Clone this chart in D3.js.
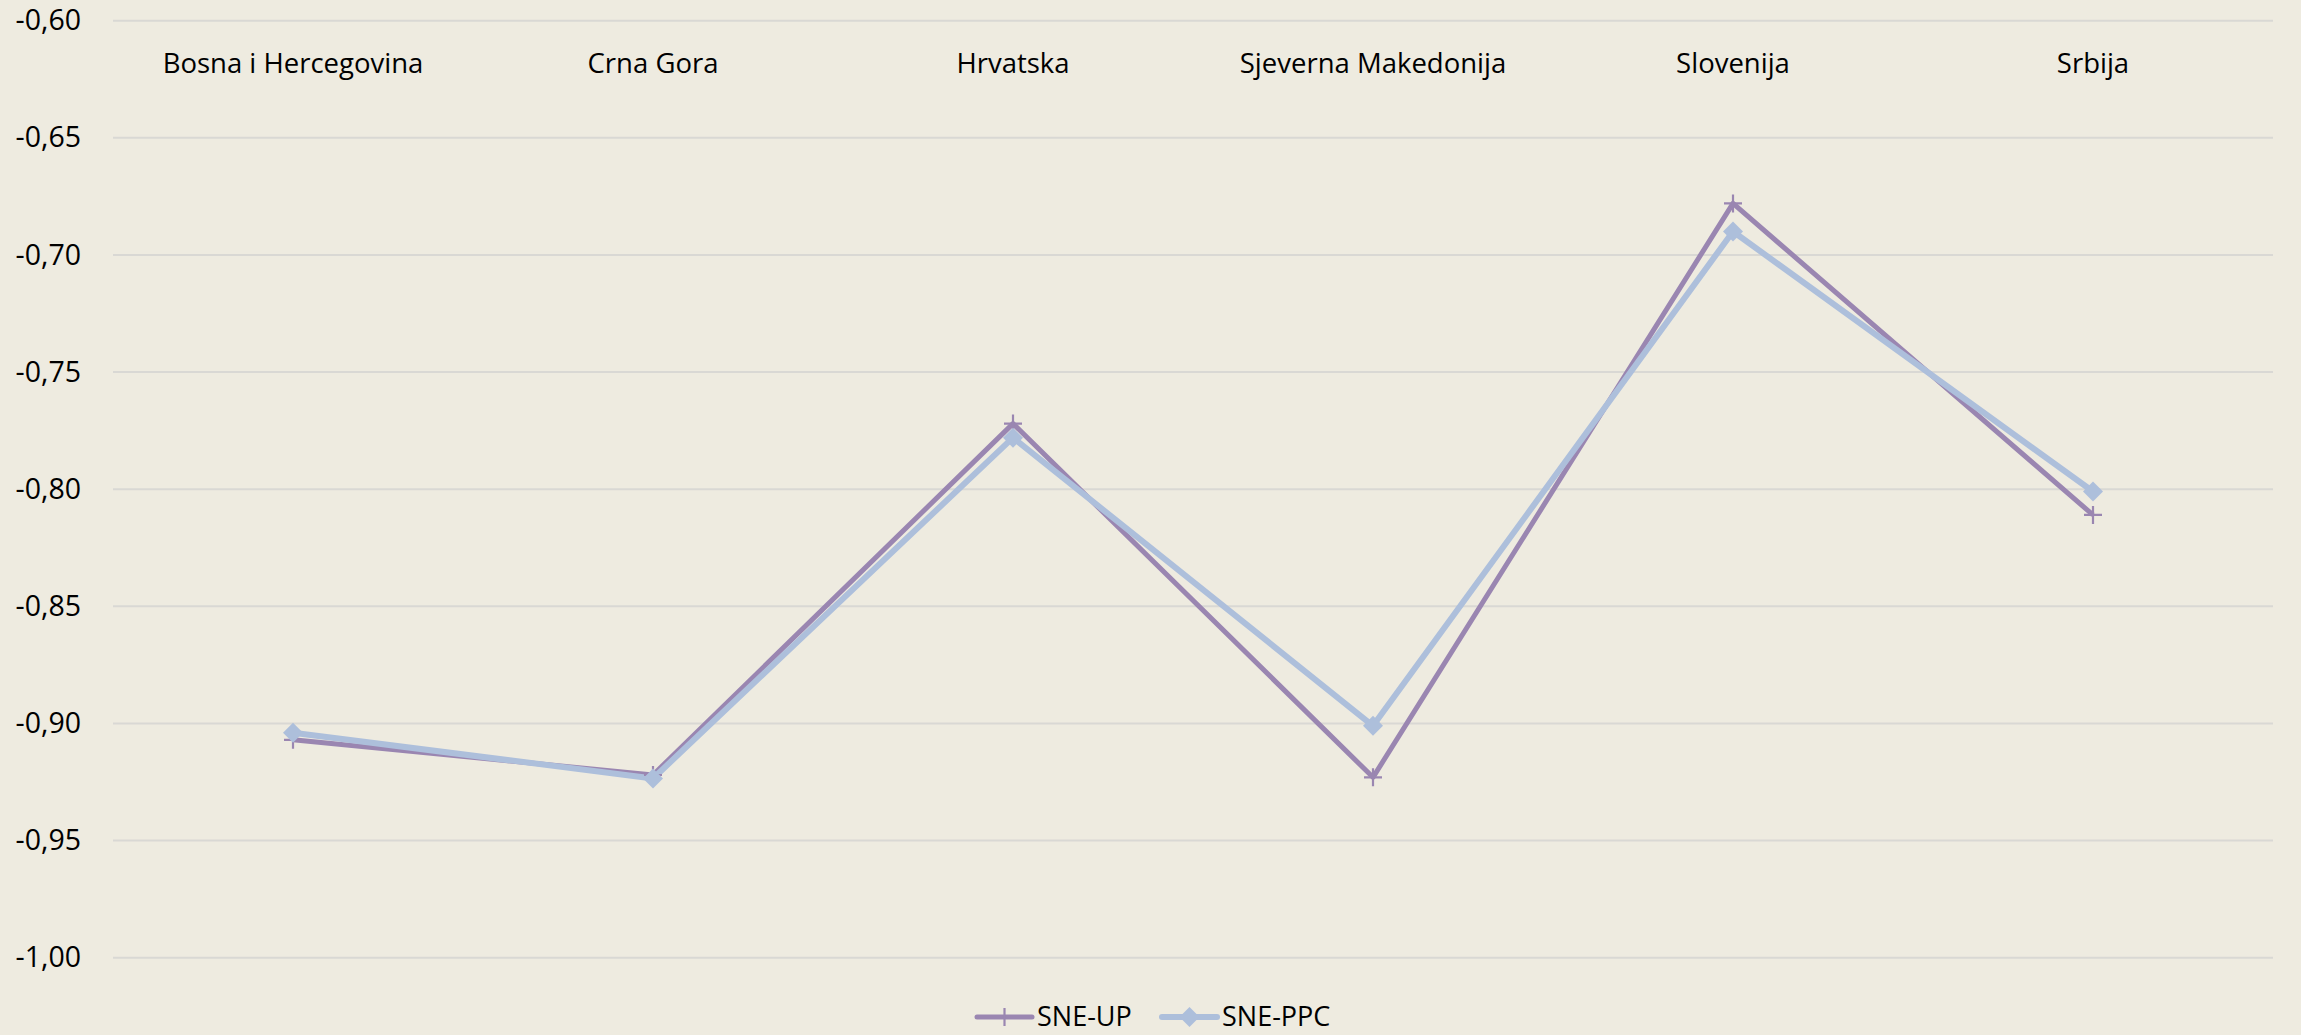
<!DOCTYPE html>
<html>
<head>
<meta charset="utf-8">
<script src="https://cdn.jsdelivr.net/npm/d3@7"></script>
<style>
  body { margin: 0; background: #eeebe0; }
  svg { display: block; }
  text { font-family: "Open Sans", Lato, sans-serif; fill: #000; }
</style>
</head>
<body>
<div id="chart"></div>
<script>
var width = 2301, height = 1035;

// data
var countries = ["Bosna i Hercegovina", "Crna Gora", "Hrvatska", "Sjeverna Makedonija", "Slovenija", "Srbija"];
var sneUP  = [-0.907, -0.922, -0.772, -0.923, -0.678, -0.811];
var snePPC = [-0.904, -0.9235, -0.778, -0.901, -0.690, -0.801];
var yTicks = [-0.60, -0.65, -0.70, -0.75, -0.80, -0.85, -0.90, -0.95, -1.00];
var seriesNames = ["SNE-UP", "SNE-PPC"];
var colors = ["#9a86b1", "#adbfdb"];

var margin = {left: 113, right: 28, top: 21, bottom: 77};

var svg = d3.select("#chart").append("svg")
  .attr("width", width)
  .attr("height", height);

svg.append("rect").attr("width", width).attr("height", height).attr("fill", "#eeebe0");

var x = d3.scaleBand()
  .domain(countries)
  .range([margin.left, width - margin.right]);

var y = d3.scaleLinear()
  .domain([-1.00, -0.60])
  .range([height - margin.bottom - 0.3, margin.top - 0.3]);

var fmt = function(d){ return d3.format(".2f")(d).replace(".", ",").replace("−", "-"); };

// gridlines
svg.append("g")
  .selectAll("line")
  .data(yTicks)
  .join("line")
  .attr("x1", margin.left)
  .attr("x2", width - margin.right)
  .attr("y1", function(d){ return y(d); })
  .attr("y2", function(d){ return y(d); })
  .attr("stroke", "#d9d8d4")
  .attr("stroke-width", 2);

// y axis labels
var yAxis = svg.append("g")
  .attr("transform", "translate(" + (margin.left - 32) + ",0)")
  .call(d3.axisLeft(y).tickValues(yTicks).tickFormat(fmt).tickSize(0).tickPadding(0));
yAxis.select(".domain").remove();
yAxis.selectAll("text")
  .attr("font-size", 28.5)
  .attr("font-family", "'Open Sans', Lato, sans-serif")
  .attr("fill", "#000");

// category labels at top
var xAxis = svg.append("g")
  .attr("transform", "translate(0," + 63 + ")")
  .call(d3.axisTop(x).tickSize(0).tickPadding(0));
xAxis.select(".domain").remove();
xAxis.selectAll("text")
  .attr("font-size", 27.5)
  .attr("font-family", "'Open Sans', Lato, sans-serif")
  .attr("fill", "#000")
  .attr("dy", "0.35em")
  .attr("y", 0);

var cx = function(d, i){ return x(countries[i]) + x.bandwidth() / 2; };

var line = d3.line()
  .x(function(d, i){ return x(countries[i]) + x.bandwidth() / 2; })
  .y(function(d){ return y(d); });

// SNE-UP line
svg.append("path")
  .datum(sneUP)
  .attr("fill", "none")
  .attr("stroke", colors[0])
  .attr("stroke-width", 5)
  .attr("stroke-linejoin", "round")
  .attr("d", line);

// SNE-PPC line
svg.append("path")
  .datum(snePPC)
  .attr("fill", "none")
  .attr("stroke", colors[1])
  .attr("stroke-width", 6)
  .attr("stroke-linejoin", "round")
  .attr("d", line);

// cross markers for SNE-UP
var crosses = svg.append("g").selectAll("g")
  .data(sneUP)
  .join("g")
  .attr("transform", function(d, i){ return "translate(" + cx(d, i) + "," + y(d) + ")"; });
crosses.append("path")
  .attr("d", "M-9,0H9M0,-9V9")
  .attr("stroke", colors[0])
  .attr("stroke-width", 2.2);

// diamond markers for SNE-PPC
svg.append("g").selectAll("path")
  .data(snePPC)
  .join("path")
  .attr("transform", function(d, i){ return "translate(" + cx(d, i) + "," + y(d) + ")"; })
  .attr("d", "M0,-10L10,0L0,10L-10,0Z")
  .attr("fill", colors[1]);

// legend
var legend = svg.append("g").attr("transform", "translate(0,1017)");
var legX = [977, 1162];
seriesNames.forEach(function(name, i){
  var g = legend.append("g").attr("transform", "translate(" + legX[i] + ",0)");
  g.append("line")
    .attr("x1", 0).attr("x2", 55)
    .attr("stroke", colors[i])
    .attr("stroke-width", i === 0 ? 5 : 6)
    .attr("stroke-linecap", "round");
  if (i === 0) {
    g.append("path").attr("d", "M27.5,-9V9").attr("stroke", colors[0]).attr("stroke-width", 2.2);
  } else {
    g.append("path").attr("d", "M27.5,-10L37.5,0L27.5,10L17.5,0Z").attr("fill", colors[1]);
  }
  g.append("text")
    .attr("x", 60)
    .attr("dy", "0.35em")
    .attr("font-size", 27)
    .text(name);
});
</script>
</body>
</html>
